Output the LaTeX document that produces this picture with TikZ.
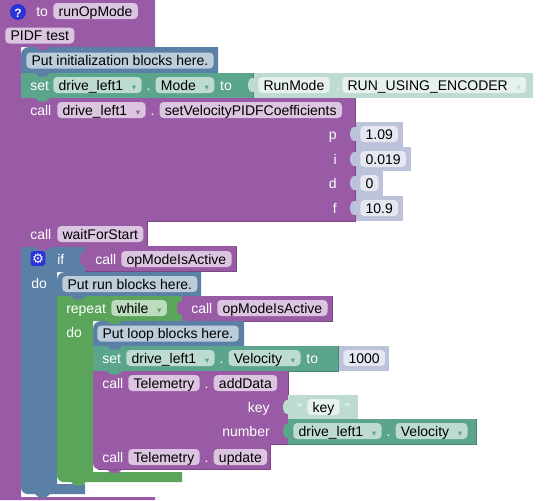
\documentclass[tikz,border=0pt]{standalone}
\usepackage{fontspec}
\usepackage{xcolor}
\usetikzlibrary{positioning}
\setmainfont{Liberation Sans}
\newfontfamily\symfont{DejaVu Sans}

\definecolor{procblock}{HTML}{995BA5}
\definecolor{procedge}{HTML}{7A4984}
\definecolor{procfield}{HTML}{DCC5E0}
\definecolor{mathblock}{HTML}{5BA58C}
\definecolor{mathedge}{HTML}{498470}
\definecolor{mathfield}{HTML}{BDDBD1}
\definecolor{mathpale}{HTML}{E7F2EE}
\definecolor{logicblock}{HTML}{5B80A5}
\definecolor{logicedge}{HTML}{496684}
\definecolor{logicfield}{HTML}{BDCCDB}
\definecolor{loopblock}{HTML}{5BA55B}
\definecolor{loopedge}{HTML}{498449}
\definecolor{loopfield}{HTML}{BDDBBD}
\definecolor{numblock}{HTML}{BDC2DB}
\definecolor{numfield}{HTML}{E5E7F1}
\definecolor{iconblue}{HTML}{2A33D8}

\newcommand{\ddmark}[1]{\hspace{6.5pt}{\symfont\fontsize{6.5}{7}\selectfont\textcolor{#1}{▾}}\hspace{3.5pt}}
% plain statement block, darker edge on its lower and right side
\newcommand{\stmtblock}[5]{\fill[#1block] (#2,#3) rectangle (#4,#5); \draw[#1edge, line width=0.4pt] (#2,#5) -- (#4,#5) -- (#4,#3);}
% small tab under a statement block
\newcommand{\stmttab}[3]{\fill[#3] (#1+14,#2) -- (#1+18,#2+3.5) -- (#1+25,#2+3.5) -- (#1+29,#2) -- cycle;}
% puzzle socket on the left of a value block
\newcommand{\valtab}[3]{\fill[#3] (#1+1,#2-7) .. controls (#1-7,#2-9) and (#1-7,#2+9) .. (#1+1,#2+7) -- cycle;}

\begin{document}
\begin{tikzpicture}[
    x=0.75pt, y=-0.75pt,
    every node/.style={font=\fontsize{10.5}{13}\selectfont, inner ysep=0pt, inner xsep=4pt, text height=9.75pt, text depth=2.25pt},
    kw/.style={text=white, inner xsep=0pt},
    kwr/.style={text=white, inner xsep=0pt, anchor=east},
    procf/.style={fill=procfield, rounded corners=3pt},
    mathf/.style={fill=mathfield, rounded corners=3pt},
    logicf/.style={fill=logicfield, rounded corners=3pt},
    loopf/.style={fill=loopfield, rounded corners=3pt},
    numf/.style={fill=numfield, rounded corners=3pt},
    palef/.style={fill=mathpale, rounded corners=3pt},
    numb/.style={fill=numblock},
    paleb/.style={fill=mathfield},
    logic/.style={fill=logicblock},
    loopb/.style={fill=loopblock}
]
\useasboundingbox (0,0) rectangle (545,500);

% outer function block
\fill[procblock] (0,0) -- (155,0) -- (155,47) -- (21,47) -- (21,497) -- (155,497) -- (155,500) -- (0,500) -- cycle;

% first statements
\fill[logic] (21,73) [rounded corners=6pt] -- (21,47) [sharp corners] -- (218,47) -- (218,73) -- cycle;
\stmttab{21}{46.5}{procblock}
\fill[mathfield] (253,73) rectangle (533,98);
\stmtblock{math}{21}{73}{253}{98}
\stmttab{21}{73}{logicblock}
\stmtblock{proc}{21}{98}{355}{221}
\stmttab{21}{98}{mathblock}
\stmtblock{proc}{21}{221}{147}{247}

% value blocks of the coefficients call
\fill[numb] (356,122) rectangle (403,147);
\fill[numb] (356,147) rectangle (411,171);
\fill[numb] (356,171) rectangle (383,196);
\fill[numb] (356,196) rectangle (403,221);
\valtab{355}{134}{numblock}
\valtab{355}{159}{numblock}
\valtab{355}{183}{numblock}
\valtab{355}{208}{numblock}
\valtab{253}{85}{mathfield}

% if block
\fill[logic] (21,247) -- (85,247) -- (85,272) -- (57,272) -- (57,484) -- (85,484) -- (85,494) [rounded corners=5pt] -- (21,494) [sharp corners] -- cycle;
\stmttab{21}{247}{procblock}
\stmtblock{proc}{85}{246}{236}{271}
\valtab{85}{259}{procblock}
\fill[logic] (57,296) [rounded corners=6pt] -- (57,272) [sharp corners] -- (201,272) -- (201,296) -- cycle;

% repeat block
\fill[loopb] (57,296) -- (182,296) -- (182,321) -- (93,321) -- (93,472) -- (182,472) -- (182,482) [rounded corners=5pt] -- (57,482) [sharp corners] -- cycle;
\stmttab{57}{296}{logicblock}
\stmtblock{proc}{182}{296}{332}{321}
\valtab{182}{308}{procblock}
\fill[logic] (93,346) [rounded corners=6pt] -- (93,321) [sharp corners] -- (244,321) -- (244,346) -- cycle;

% loop body
\fill[numb] (338,346) rectangle (389,371);
\valtab{338}{358}{numblock}
\stmtblock{math}{93}{346}{338}{371}
\stmttab{93}{320.5}{loopblock}
\stmttab{93}{346}{logicblock}
\stmtblock{proc}{93}{371}{288}{444}
\stmttab{93}{371}{mathblock}
\fill[paleb] (288,395) rectangle (358,419);
\valtab{288}{407}{mathfield}
\stmtblock{math}{288}{419}{476}{444}
\valtab{288}{431}{mathblock}
\fill[procblock] (93,444) [rounded corners=5pt] -- (93,469.5) [sharp corners] -- (270,469.5) -- (270,444) -- cycle;
\draw[procedge, line width=0.4pt] (98,469.5) -- (270,469.5) -- (270,444);
\stmttab{93}{469.5}{procblock}
\stmttab{57}{482}{loopblock}
\stmttab{21}{494}{logicblock}

% header
\node[circle, fill=iconblue, text=white, minimum size=12pt, inner sep=0pt, text height=7.5pt, text depth=0pt, font=\fontsize{9}{9}\selectfont\bfseries] (help) at (18,12) {?};
\node[kw, anchor=west] (to1) at (36,11) {to};
\node[procf, anchor=west] (funcname) at (53,11) {runOpMode};
\node[procf, anchor=west] (pidftest) at (5,35.5) {PIDF test};

% init comment
\node[logicf, anchor=west] (initnote) at (26,60.5) {Put initialization blocks here.};

% set mode
\node[kw, anchor=west] (setmode) at (30,85) {set};
\node[mathf, anchor=west] (mdrive) at (53,85) {drive\_left1\ddmark{mathblock}};
\node[kw, right=3.4pt of mdrive] (mdot) {.};
\node[mathf, right=3.4pt of mdot] (modefield) {Mode\ddmark{mathblock}};
\node[kw, right=4pt of modefield] (mto) {to};
\node[palef, anchor=west] (runmode) at (258,85) {RunMode};
\node[kw, right=4.5pt of runmode] (rdot) {.};
\node[palef, anchor=west] (runenc) at (342,85) {RUN\_USING\_ENCODER\ddmark{mathfield}};

% coefficients call
\node[kw, anchor=west] (callcoef) at (30,110) {call};
\node[procf, anchor=west] (cdrive) at (57,110) {drive\_left1\ddmark{procblock}};
\node[kw, right=3.4pt of cdrive] (cdot) {.};
\node[procf, right=3.4pt of cdot] (setcoef) {setVelocityPIDFCoefficients};

\node[kwr] (plabel) at (337,134) {p};
\node[kwr] (ilabel) at (337,159) {i};
\node[kwr] (dlabel) at (337,183) {d};
\node[kwr] (flabel) at (337,208) {f};
\node[numf, anchor=west] (pval) at (360,134) {1.09};
\node[numf, anchor=west] (ival) at (360,159) {0.019};
\node[numf, anchor=west] (dval) at (360,183) {0};
\node[numf, anchor=west] (fval) at (360,208) {10.9};

% wait
\node[kw, anchor=west] (callwait) at (30,234) {call};
\node[procf, anchor=west] (waitfield) at (57,234) {waitForStart};

% if row
\node[fill=iconblue, text=white, rounded corners=2pt, minimum size=11pt, inner sep=0pt, text height=9pt, text depth=1.5pt, font=\symfont\fontsize{10}{10}\selectfont] (gear) at (38,258.5) {⚙};
\node[kw, anchor=west] (iflabel) at (57,259) {if};
\node[kw, anchor=west] (callactive) at (95,259) {call};
\node[procf, anchor=west] (activefield) at (121,259) {opModeIsActive};
\node[kw, anchor=west] (dolabel) at (31,283) {do};
\node[logicf, anchor=west] (runnote) at (62,284) {Put run blocks here.};

% repeat row
\node[kw, anchor=west] (repeatlabel) at (66,308) {repeat};
\node[loopf, anchor=west] (whilefield) at (111,308) {while\ddmark{loopblock}};
\node[kw, anchor=west] (callactive2) at (191,308) {call};
\node[procf, anchor=west] (activefield2) at (217,308) {opModeIsActive};
\node[kw, anchor=west] (dolabel2) at (66,332) {do};
\node[logicf, anchor=west] (loopnote) at (97,333.5) {Put loop blocks here.};

% set velocity
\node[kw, anchor=west] (setvel) at (102,358) {set};
\node[mathf, anchor=west] (vdrive) at (126,358) {drive\_left1\ddmark{mathblock}};
\node[kw, right=3.4pt of vdrive] (vdot) {.};
\node[mathf, right=3.4pt of vdot] (velfield) {Velocity\ddmark{mathblock}};
\node[kw, right=4pt of velfield] (vto) {to};
\node[numf, anchor=west] (velval) at (343,358) {1000};

% telemetry
\node[kw, anchor=west] (calladd) at (102,383) {call};
\node[procf, anchor=west] (telefield) at (128,383) {Telemetry};
\node[kw, right=3.4pt of telefield] (tdot) {.};
\node[procf, right=3.4pt of tdot] (adddata) {addData};
\node[kwr] (keylabel) at (270,407) {key};
\node[kwr] (numlabel) at (270,431) {number};
\node[palef, anchor=west] (keyfield) at (307,407) {key};
\node[left=3pt of keyfield, text=white, inner xsep=0pt] (openq) {\symfont\fontsize{9}{9}\selectfont“};
\node[right=3pt of keyfield, text=white, inner xsep=0pt] (closeq) {\symfont\fontsize{9}{9}\selectfont”};
\node[mathf, anchor=west] (ndrive) at (293,431) {drive\_left1\ddmark{mathblock}};
\node[kw, right=3.4pt of ndrive] (ndot) {.};
\node[mathf, right=3.4pt of ndot] (nvel) {Velocity\ddmark{mathblock}};

\node[kw, anchor=west] (callupd) at (102,457) {call};
\node[procf, anchor=west] (telefield2) at (128,457) {Telemetry};
\node[kw, right=3.4pt of telefield2] (tdot2) {.};
\node[procf, right=3.4pt of tdot2] (updfield) {update};

\end{tikzpicture}
\end{document}
